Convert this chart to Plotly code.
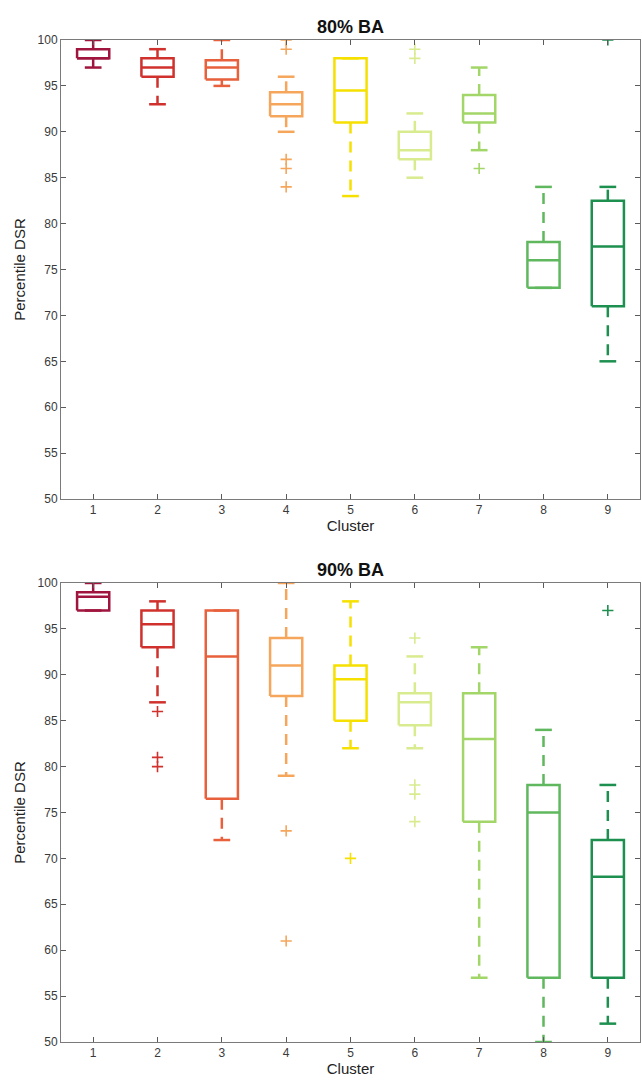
import plotly.graph_objects as go

clusters = [1, 2, 3, 4, 5, 6, 7, 8, 9]
colors = ["#a0153e", "#d0312d", "#e8603c", "#f5a65b", "#f5e000",
          "#d8eb8e", "#a3d668", "#5fb85e", "#1d8f4e"]
ytick_vals = [50, 55, 60, 65, 70, 75, 80, 85, 90, 95, 100]

# Panel 1: 80% BA
ba80_lo = [97, 93, 95, 90, 83, 85, 88, 73, 65]
ba80_q1 = [98, 96, 95.7, 91.7, 91, 87, 91, 73, 71]
ba80_med = [98, 97, 97, 93, 94.5, 88, 92, 76, 77.5]
ba80_q3 = [99, 98, 97.8, 94.3, 98, 90, 94, 78, 82.5]
ba80_hi = [100, 99, 100, 96, 98, 92, 97, 84, 84]
ba80_out = [[], [], [], [100, 99, 87, 86, 84], [], [99, 98], [86], [], [100]]

# Panel 2: 90% BA
ba90_lo = [97, 87, 72, 79, 82, 82, 57, 50, 52]
ba90_q1 = [97, 93, 76.5, 87.7, 85, 84.5, 74, 57, 57]
ba90_med = [98.5, 95.5, 92, 91, 89.5, 87, 83, 75, 68]
ba90_q3 = [99, 97, 97, 94, 91, 88, 88, 78, 72]
ba90_hi = [100, 98, 97, 100, 98, 92, 93, 84, 78]
ba90_out = [[], [86, 81, 80], [], [73, 61], [70], [94, 78, 77, 74], [], [], [97]]

titles = ["80% BA", "90% BA"]
panels = [
    (ba80_lo, ba80_q1, ba80_med, ba80_q3, ba80_hi, ba80_out),
    (ba90_lo, ba90_q1, ba90_med, ba90_q3, ba90_hi, ba90_out),
]

BOX_HALF = 0.25
CAP_HALF = 0.13
LW = 2.5
FONT = "Liberation Sans, Arial, sans-serif"

fig = go.Figure()
axes_ids = [("x", "y"), ("x2", "y2")]

for p, (lo, q1, med, q3, hi, outs) in enumerate(panels):
    xa, ya = axes_ids[p]
    for i, c in enumerate(clusters):
        col = colors[i]
        # whiskers (dashed)
        wx, wy = [], []
        if hi[i] > q3[i]:
            wx += [c, c, None]
            wy += [q3[i], hi[i], None]
        if lo[i] < q1[i]:
            wx += [c, c, None]
            wy += [q1[i], lo[i], None]
        if wx:
            fig.add_trace(go.Scatter(x=wx, y=wy, mode="lines", xaxis=xa, yaxis=ya,
                                     line=dict(color=col, width=LW, dash="11px,8px"),
                                     showlegend=False, hoverinfo="skip"))
        # caps
        fig.add_trace(go.Scatter(
            x=[c - CAP_HALF, c + CAP_HALF, None, c - CAP_HALF, c + CAP_HALF],
            y=[hi[i], hi[i], None, lo[i], lo[i]],
            mode="lines", xaxis=xa, yaxis=ya,
            line=dict(color=col, width=LW), showlegend=False, hoverinfo="skip"))
        # box + median
        fig.add_trace(go.Scatter(
            x=[c - BOX_HALF, c + BOX_HALF, c + BOX_HALF, c - BOX_HALF, c - BOX_HALF, None,
               c - BOX_HALF, c + BOX_HALF],
            y=[q1[i], q1[i], q3[i], q3[i], q1[i], None, med[i], med[i]],
            mode="lines", xaxis=xa, yaxis=ya,
            line=dict(color=col, width=LW), showlegend=False, hoverinfo="skip"))
        # outliers
        if outs[i]:
            fig.add_trace(go.Scatter(
                x=[c] * len(outs[i]), y=outs[i], mode="markers", xaxis=xa, yaxis=ya,
                marker=dict(symbol="cross-thin", size=8, line=dict(color=col, width=1.6)),
                showlegend=False, hoverinfo="skip"))

axis_common = dict(
    showline=True, linecolor="#7a7a7a", linewidth=1, mirror="ticks",
    ticks="inside", ticklen=5, tickwidth=1, tickcolor="#5a5a5a",
    showgrid=False, zeroline=False,
    tickfont=dict(family=FONT, size=12, color="#3a3a3a"),
)
title_font = dict(family=FONT, size=15, color="#222")

top_dom = [0.5419, 1.0]
bot_dom = [0.0, 0.4581]

fig.update_layout(
    width=642, height=1083,
    margin=dict(l=61, r=2, t=40, b=41),
    plot_bgcolor="white", paper_bgcolor="white",
    xaxis=dict(axis_common, domain=[0, 1], range=[0.5, 9.5], tickvals=clusters,
               anchor="y", title=dict(text="Cluster", standoff=3, font=title_font)),
    yaxis=dict(axis_common, domain=top_dom, range=[50, 100], tickvals=ytick_vals, anchor="x",
               title=dict(text="Percentile DSR", standoff=8, font=title_font)),
    xaxis2=dict(axis_common, domain=[0, 1], range=[0.5, 9.5], tickvals=clusters,
                anchor="y2", title=dict(text="Cluster", standoff=3, font=title_font)),
    yaxis2=dict(axis_common, domain=bot_dom, range=[50, 100], tickvals=ytick_vals, anchor="x2",
                title=dict(text="Percentile DSR", standoff=8, font=title_font)),
)

for dom, t in zip([top_dom, bot_dom], titles):
    fig.add_annotation(text="<b>%s</b>" % t, xref="paper", yref="paper",
                       x=0.5, y=dom[1], yanchor="bottom", yshift=1, showarrow=False,
                       font=dict(family=FONT, size=18, color="#111"))

fig.write_html("out.html")
